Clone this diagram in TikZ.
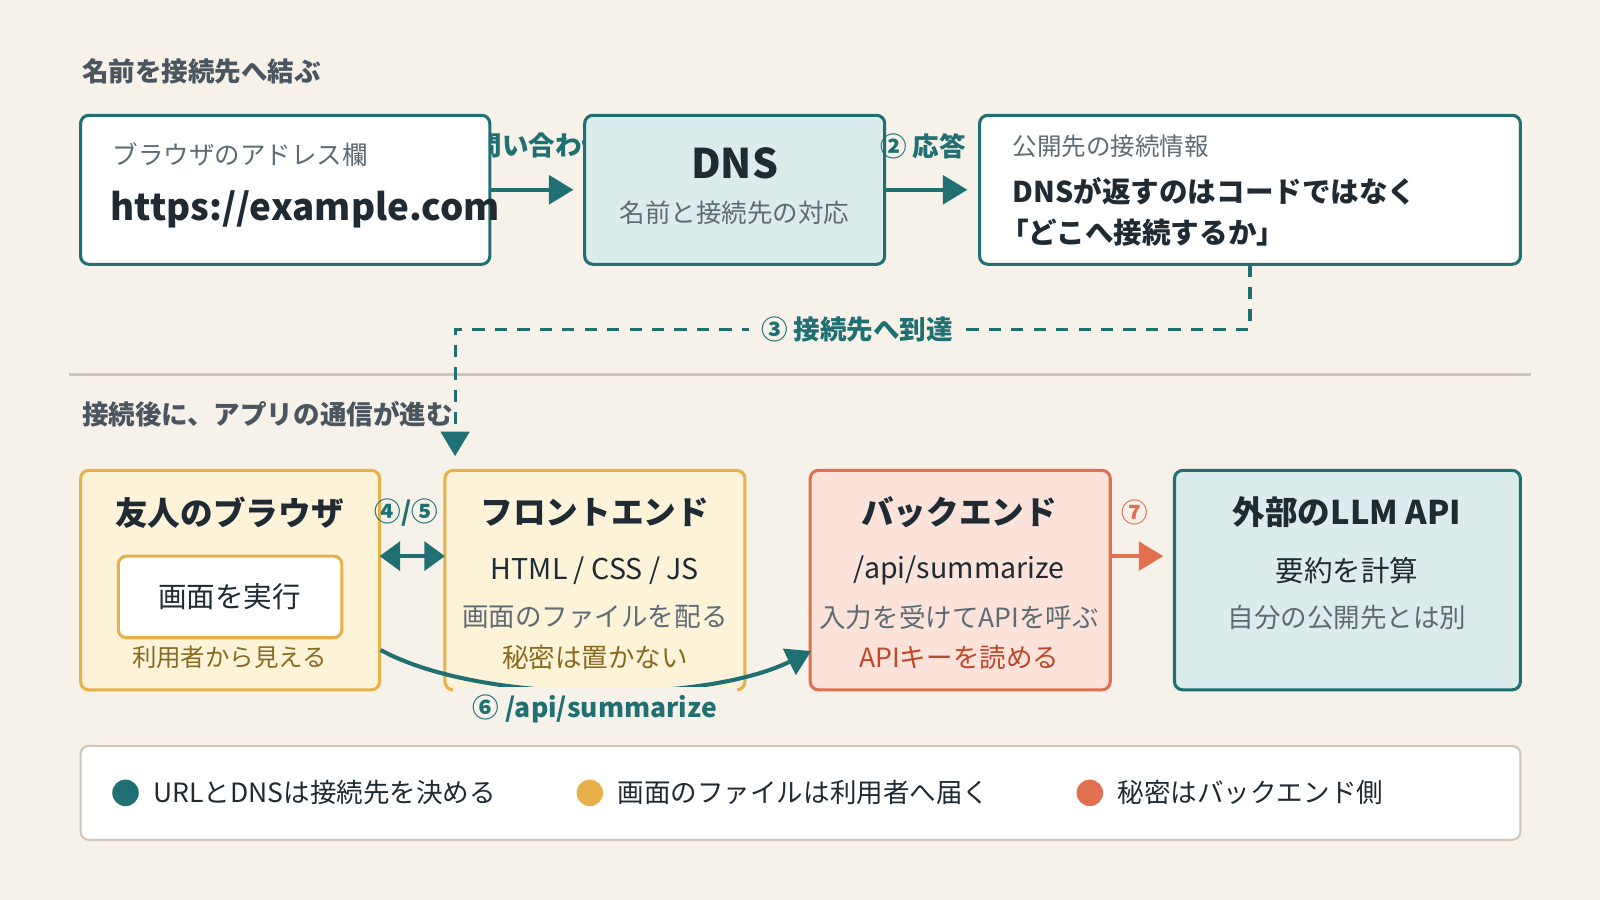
\documentclass[tikz,border=0pt]{standalone}
\usepackage{fontspec}
\setmainfont{Noto Sans CJK JP}
\usetikzlibrary{arrows.meta}
\definecolor{bg}{HTML}{F6F1E9}
\definecolor{teal}{HTML}{1F6F73}
\definecolor{dark}{HTML}{1F2A33}
\definecolor{gr}{HTML}{5E6B73}
\definecolor{ttl}{HTML}{4A5560}
\definecolor{yel}{HTML}{E8B04A}
\definecolor{yfill}{HTML}{FDF3D9}
\definecolor{brn}{HTML}{8A6A1F}
\definecolor{org}{HTML}{E07050}
\definecolor{ofill}{HTML}{FBE3DA}
\definecolor{red2}{HTML}{C0462A}
\definecolor{tfill}{HTML}{DCEBEC}
\definecolor{lgb}{HTML}{CFC6B8}
\newcommand{\fsz}[1]{\fontsize{\fpeval{#1/2}pt}{\fpeval{#1*0.6}pt}\selectfont}
\tikzset{
 box/.style={rounded corners=4pt,line width=1.5pt},
 tbox/.style={box,draw=teal},
 ybox/.style={box,draw=yel,fill=yfill},
 obox/.style={box,draw=org,fill=ofill},
 lab/.style={font=\fsz{26}\bfseries,text=teal,inner sep=1pt},
 arr/.style={line width=2pt,draw=teal,-{Triangle[length=12pt,width=14pt]}},
 txt/.style={inner sep=0pt},
}
\begin{document}
\begin{tikzpicture}[x=0.5pt,y=-0.5pt]
\fill[bg] (0,0) rectangle (1568,882);
\useasboundingbox (0,0) rectangle (1568,882);
% titles
\node[txt,anchor=west,text=ttl,font=\fsz{26}\bfseries] (t1) at (80,70) {名前を接続先へ結ぶ};
\node[txt,anchor=west,text=ttl,font=\fsz{26}\bfseries] (t2) at (80,406) {接続後に、アプリの通信が進む};
\draw[lgb,line width=1pt] (68,367) -- (1500,367);
% top row
\node[lab,anchor=west] (l1) at (432,143) {① 問い合わせ};
\draw[tbox,fill=white] (79,113) rectangle (480,259);
\coordinate (b1e) at (480,186);
\node[txt,anchor=west,text=gr,font=\fsz{25}] (b1a) at (110,152) {ブラウザのアドレス欄};
\node[txt,anchor=west,text=dark,font=\fsz{36}\bfseries] (b1b) at (108,205) {https://example.com};
\draw[tbox,fill=tfill] (573,113) rectangle (867,259);
\coordinate (dw) at (573,186);
\coordinate (de) at (867,186);
\node[txt,text=dark,font=\fsz{40}\bfseries] (dns) at (720,160) {DNS};
\node[txt,text=gr,font=\fsz{25}] (dns2) at (720,209) {名前と接続先の対応};
\node[lab,anchor=west] (l2) at (860,143) {② 応答};
\draw[tbox,fill=white] (960,113) rectangle (1490,259);
\coordinate (b3w) at (960,186);
\coordinate (b3s) at (1225,259);
\node[txt,anchor=west,text=gr,font=\fsz{24}] (b3a) at (992,143) {公開先の接続情報};
\node[txt,anchor=west,text=dark,font=\fsz{28}\bfseries] (b3b) at (992,187) {DNSが返すのはコードではなく};
\node[txt,anchor=west,text=dark,font=\fsz{28}\bfseries] (b3c) at (980,228) {「どこへ接続するか」};
\draw[arr] (b1e) -- (562,186);
\draw[arr] (de) -- (948,186);
% dashed
\coordinate (fn) at (446,447);
\draw[teal,line width=1.5pt,dash pattern=on 6pt off 5pt,-{Triangle[length=12pt,width=14pt]}] (b3s) -- (1225,323) -- (446,323) -- (fn);
\node[lab,fill=bg,inner sep=6pt] (l3) at (840,323) {③ 接続先へ到達};
% bottom row
\draw[ybox] (79,461) rectangle (372,676);
\node[txt,text=dark,font=\fsz{32}\bfseries] (fr) at (225,502) {友人のブラウザ};
\draw[box,draw=yel,fill=white] (116,545) rectangle (335,625);
\node[txt,text=dark,font=\fsz{28}] (fr2) at (225,585) {画面を実行};
\node[txt,text=brn,font=\fsz{24}] (fr3) at (225,644) {利用者から見える};
\coordinate (fre) at (372,545);
\coordinate (frc) at (373,637);
\draw[ybox] (436,461) rectangle (730,676);
\coordinate (few) at (436,545);
\node[txt,text=dark,font=\fsz{32}\bfseries] (fe) at (583,502) {フロントエンド};
\node[txt,text=dark,font=\fsz{28}] (fe2) at (583,559) {HTML / CSS / JS};
\node[txt,text=gr,font=\fsz{26}] (fe3) at (583,605) {画面のファイルを配る};
\node[txt,text=brn,font=\fsz{26}] (fe4) at (583,644) {秘密は置かない};
\node[lab] (l45) at (398,502) {④/⑤};
\draw[line width=2pt,teal,{Triangle[length=10pt,width=14pt]}-{Triangle[length=10pt,width=14pt]}] (fre) -- (few);
\draw[obox] (794,461) rectangle (1088,676);
\coordinate (bew) at (795,638);
\coordinate (bee) at (1088,545);
\node[txt,text=dark,font=\fsz{32}\bfseries] (be) at (940,502) {バックエンド};
\node[txt,text=dark,font=\fsz{28}] (be2) at (940,559) {/api/summarize};
\node[txt,text=gr,font=\fsz{26}] (be3) at (940,605) {入力を受けてAPIを呼ぶ};
\node[txt,text=red2,font=\fsz{26}] (be4) at (940,644) {APIキーを読める};
\node[lab,text=org] (l7) at (1112,502) {⑦};
\draw[line width=2pt,draw=org,-{Triangle[length=12pt,width=14pt]}] (bee) -- (1140,545);
\draw[tbox,fill=tfill] (1151,461) rectangle (1490,676);
\node[txt,text=dark,font=\fsz{32}\bfseries] (ex) at (1320,502) {外部のLLM API};
\node[txt,text=dark,font=\fsz{28}] (ex2) at (1320,559) {要約を計算};
\node[txt,text=gr,font=\fsz{26}] (ex3) at (1320,605) {自分の公開先とは別};
\draw[arr] (frc) .. controls (470,690) and (690,690) .. (bew);
\node[lab,fill=bg,inner xsep=10pt,inner ysep=4pt] (l6) at (583,695) {⑥ /api/summarize};
% legend
\draw[box,draw=lgb,line width=1pt,fill=white] (79,731) rectangle (1490,823);
\fill[teal] (123,777) circle (13);
\node[txt,anchor=west,text=dark,font=\fsz{26}] (g1) at (150,777) {URLとDNSは接続先を決める};
\fill[yel] (578,777) circle (13);
\node[txt,anchor=west,text=dark,font=\fsz{26}] (g2) at (605,777) {画面のファイルは利用者へ届く};
\fill[org] (1068,777) circle (13);
\node[txt,anchor=west,text=dark,font=\fsz{26}] (g3) at (1095,777) {秘密はバックエンド側};
\end{tikzpicture}
\end{document}
